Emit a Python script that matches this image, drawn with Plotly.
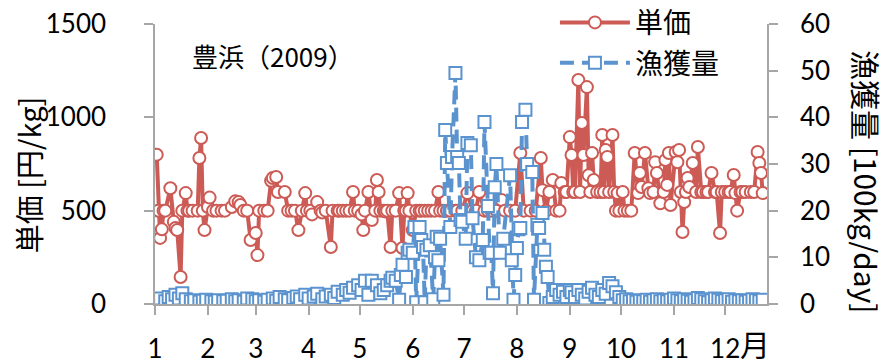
import plotly.graph_objects as go

# ---- data (day of year, 2009) ----
price_days = [2, 3, 4, 5, 6, 7, 10, 12, 13, 14, 16, 17, 19, 20, 21, 23, 26, 27, 28, 29, 30,
              32, 33, 35, 37, 40, 42, 46, 48, 50, 51, 53, 55, 57, 60, 61, 62, 65, 67, 69, 70,
              72, 73, 77, 79, 81, 83, 85, 87, 89, 90, 92, 93, 96, 98, 99, 101, 104, 105, 108,
              109, 111, 113, 115, 117, 118, 120, 122, 123, 124, 126, 128, 130, 131, 132, 133,
              135, 136, 137, 139, 140, 142, 144, 146, 147, 148, 149, 150, 152, 154, 156, 157,
              159, 161, 163, 165, 167, 168, 170, 172, 174, 177, 178, 181, 184, 187, 189, 191,
              194, 196, 198, 201, 204, 206, 209, 212, 215, 217, 221, 224, 227, 228, 230, 232,
              234, 236, 238, 239, 241, 242, 244, 245, 246, 247, 249, 250, 251, 252, 254, 255,
              256, 257, 258, 260, 262, 263, 264, 265, 266, 267, 269, 270, 271, 272, 273, 275,
              276, 278, 280, 282, 284, 285, 286, 288, 290, 291, 293, 294, 295, 297, 299, 300,
              301, 302, 303, 306, 307, 308, 309, 310, 311, 312, 313, 314, 316, 318, 319, 321,
              322, 324, 325, 327, 329, 330, 332, 333, 335, 337, 338, 340, 341, 342, 344, 345,
              347, 350, 352, 354, 355, 356, 357]
price_vals = [800, 500, 354, 400, 500, 500, 620, 440, 407, 396, 145, 500, 594, 500, 500, 500, 500,
              782, 889, 500, 396, 520, 570, 500, 500, 500, 500, 520, 550, 546, 530, 500, 500,
              343, 380, 262, 500, 500, 500, 660, 675, 680, 600, 600, 500, 500, 500, 396, 500,
              594, 500, 500, 480, 546, 500, 490, 500, 305, 500, 500, 500, 500, 500, 500, 600,
              500, 500, 480, 396, 500, 600, 450, 500, 664, 600, 500, 500, 495, 500, 305, 500,
              500, 594, 300, 500, 500, 594, 500, 396, 500, 500, 500, 500, 500, 500, 500, 600,
              500, 500, 500, 500, 500, 500, 500, 594, 500, 500, 600, 500, 500, 500, 500, 557,
              500, 500, 500, 809, 500, 500, 500, 782, 610, 500, 600, 664, 500, 500, 648, 600,
              600, 894, 798, 600, 600, 1200, 600, 970, 798, 1162, 690, 600, 809, 664, 600, 600,
              905, 600, 825, 788, 600, 905, 600, 500, 594, 500, 600, 500, 500, 500, 809, 594,
              702, 627, 809, 620, 594, 600, 760, 702, 540, 600, 771, 638, 809, 530, 814, 760,
              825, 600, 386, 546, 600, 675, 627, 755, 600, 841, 600, 600, 600, 600, 702, 600,
              600, 380, 600, 600, 600, 600, 691, 594, 500, 600, 600, 600, 600, 600, 814, 755,
              702, 594]

catch_days = [2, 4, 7, 9, 11, 13, 15, 17, 19, 22, 24, 27, 29, 31, 34, 36, 38, 41, 43, 46, 48, 50,
              53, 55, 58, 60, 62, 65, 67, 70, 72, 74, 77, 79, 82, 84, 86, 89, 91, 94, 96, 99, 101,
              104, 106, 108, 111, 113, 115,
              117, 120, 122, 124, 126, 128, 131, 133, 135, 137, 139, 140, 142, 144, 145, 146, 148,
              149, 150, 152, 153, 154, 156, 157, 158, 159, 160, 162, 164, 165, 166, 167, 168, 170,
              171, 172, 174, 175, 177, 178, 179, 180, 181, 183, 184, 186, 187, 189, 191, 193, 194,
              196, 197, 198, 199, 200, 201, 203, 205, 209, 210, 211, 212, 213, 214, 215, 216, 218,
              219, 222, 223, 225, 226, 228, 229, 230, 231, 232, 234, 236, 238, 240, 242, 244,
              245, 247, 249, 251, 253, 255, 257, 259, 261, 263, 265, 267, 269, 271, 273, 275, 277,
              279, 281, 283, 285, 287, 289, 291, 293, 295, 297, 299, 301, 303, 305, 307, 309, 311,
              313, 315, 317, 319, 321, 323, 325, 327, 329, 331, 333, 335, 337, 339, 341, 343, 345,
              347, 349, 351, 353, 355, 357]
catch_vals = [0.8, 1.2, 0.6, 1.5, 1.0, 2.0, 1.2, 2.3, 1.0, 0.6, 0.8, 0.5, 0.7, 0.9, 0.6, 0.5, 0.8,
              0.6, 0.7, 1.0, 0.6, 0.8, 0.5, 1.2, 1.0, 0.6, 0.8, 0.5, 0.9, 1.2, 0.7, 1.5, 1.0, 0.8,
              1.3, 1.6, 1.0, 2.0, 1.2, 1.6, 2.2, 1.0, 1.6, 2.0, 1.3, 2.6, 2.0, 3.0, 2.4,
              3.5, 4.0, 3.0, 5.0, 2.0, 5.0, 4.0, 2.3, 3.0, 4.0, 5.0, 5.6, 5.0, 0.9, 6.2, 8.4, 5.8,
              11.0, 11.6, 11.0, 16.5, 0.4, 16.5, 13.7, 12.2, 0.4, 11.6, 12.6, 1.0, 10.0, 14.4, 9.4,
              14.0, 2.0, 37.3, 30.2, 16.5, 31.5, 49.5, 31.5, 30.2, 18.0, 17.6, 14.0, 34.5, 34.0,
              18.4, 10.0, 9.4, 13.7, 39.0, 21.0, 11.0, 11.0, 2.3, 25.0, 30.0, 11.0, 14.0, 27.6,
              9.4, 0.9, 6.2, 12.0, 16.0, 16.3, 39.0, 41.6, 30.0, 28.3, 0.9, 17.0, 16.3, 19.5,
              11.6, 8.0, 5.8, 0.2, 1.5, 3.0, 2.0, 2.6, 1.5, 3.0,
              2.5, 1.5, 3.0, 2.0, 1.2, 2.6, 3.5, 2.0, 1.5, 3.0, 2.2, 4.5, 3.8, 2.5, 1.5, 0.8, 1.0,
              0.6, 0.8, 0.5, 0.7, 0.6, 0.9, 0.5, 0.8, 1.0, 0.6, 0.8, 0.6, 0.9, 1.2, 0.8, 0.6, 1.0,
              0.7, 0.5, 0.8, 1.3, 1.0, 0.6, 0.4, 0.8, 1.2, 0.9, 0.6, 0.8, 1.0, 0.5, 0.8, 0.6, 0.8,
              0.5, 0.7, 1.0, 0.8, 0.6, 0.9]

month_start_days = [1, 32, 60, 91, 121, 152, 182, 213, 244, 274, 305, 335]
month_labels = ["1", "2", "3", "4", "5", "6", "7", "8", "9", "10", "11", "12"]

RED = "#CD5B55"
BLUE = "#5B93CF"
AX = "#A6A6A6"
LATIN = "Lato, 'Noto Sans CJK JP', sans-serif"
CJK = "'Noto Sans CJK JP', sans-serif"

fig = go.Figure()
fig.add_trace(go.Scatter(
    x=price_days, y=price_vals, name="単価", mode="lines+markers", legendgroup="a",
    line=dict(color=RED, width=4),
    marker=dict(symbol="circle", size=12, color="white", line=dict(color=RED, width=2)),
    yaxis="y"))
fig.add_trace(go.Scatter(
    x=catch_days, y=catch_vals, name="漁獲量", mode="lines+markers", legendgroup="b",
    line=dict(color=BLUE, width=4, dash="14px,8px"),
    marker=dict(symbol="square", size=12, color="white", line=dict(color=BLUE, width=2)),
    yaxis="y2"))

# page body has an 8px margin: figure is placed at (8, 8)
fig.update_layout(
    width=882, height=356,
    margin=dict(l=147, r=123, t=16, b=60, autoexpand=False),
    paper_bgcolor="white", plot_bgcolor="white",
    font=dict(family=LATIN, size=26, color="black"),
    showlegend=True,
    legend=dict(x=0.6535, y=1.094, xanchor="left", yanchor="top",
                font=dict(family=CJK, size=28), bgcolor="rgba(0,0,0,0)",
                itemwidth=70, tracegroupgap=1),
    xaxis=dict(range=[1, 359.5], tickmode="array", tickvals=month_start_days,
               ticktext=month_labels, showgrid=False, zeroline=False,
               showline=True, linecolor=AX, linewidth=1.5, automargin=False,
               ticks="outside", ticklen=9, tickcolor=AX, tickwidth=1.5,
               ticklabelstandoff=12, ticklabeloverflow="allow",
               tickfont=dict(family=LATIN, size=26)),
    yaxis=dict(range=[0, 1500], tickvals=[0, 500, 1000, 1500], showgrid=False,
               zeroline=False, showline=True, linecolor=AX, linewidth=1.5,
               ticks="outside", ticklen=9, tickcolor=AX, tickwidth=1.5, automargin=False,
               ticklabelstandoff=33, ticklabeloverflow="allow",
               tickfont=dict(family=LATIN, size=26)),
    yaxis2=dict(range=[0, 60], tickvals=[0, 10, 20, 30, 40, 50, 60], overlaying="y",
                side="right", showgrid=False, zeroline=False, showline=True,
                linecolor=AX, linewidth=1.5, ticks="outside", ticklen=9, automargin=False,
                tickcolor=AX, tickwidth=1.5, ticklabelstandoff=17,
                ticklabeloverflow="allow", tickfont=dict(family=LATIN, size=26)),
)

fig.add_annotation(text="豊浜（2009）", xref="paper", yref="paper", x=0.057, y=0.886,
                   xanchor="left", yanchor="middle", showarrow=False,
                   font=dict(family=CJK, size=26))
fig.add_annotation(text="月", xref="paper", yref="paper", x=0.98, y=-0.139,
                   xanchor="center", yanchor="middle", showarrow=False,
                   font=dict(family=CJK, size=30))
fig.add_annotation(text="単価 [円/kg]", xref="paper", yref="paper", x=-0.2075, y=0.46,
                   xanchor="center", yanchor="middle", showarrow=False, textangle=-90,
                   font=dict(family=CJK, size=29))
fig.add_annotation(text="漁獲量 [100kg/day]", xref="paper", yref="paper", x=1.1634, y=0.436,
                   xanchor="center", yanchor="middle", showarrow=False, textangle=90,
                   font=dict(family=CJK, size=30))

fig.write_html("out.html")
